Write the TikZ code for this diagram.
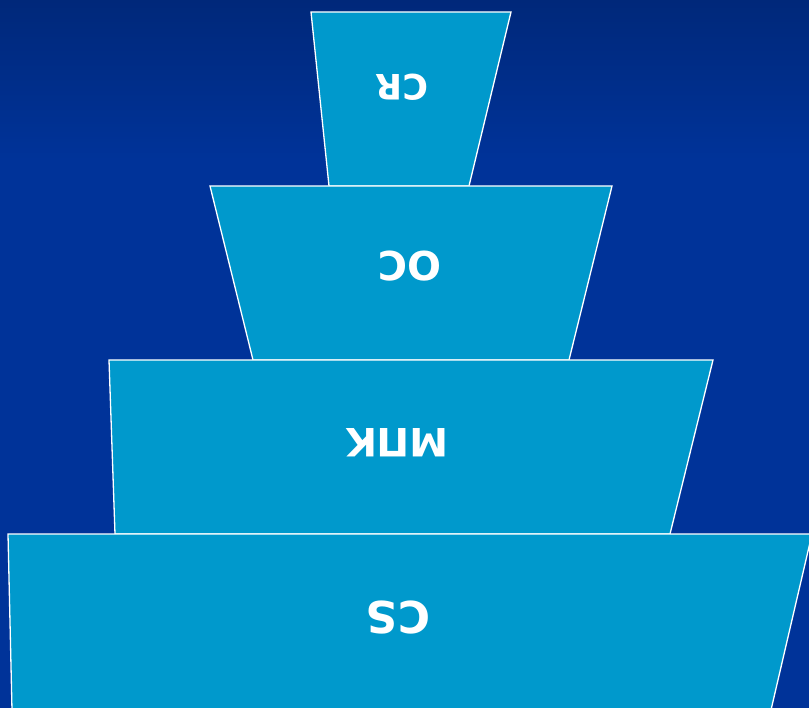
\documentclass[tikz,border=0pt]{standalone}
\usepackage{fontspec}
\setmainfont{DejaVu Sans}
\usetikzlibrary{positioning}

\definecolor{navytop}{HTML}{00287A}
\definecolor{navybg}{HTML}{003399}
\definecolor{layerblue}{HTML}{0099CC}

\begin{document}
\begin{tikzpicture}[
x=1pt, y=-1pt,
layer/.style={fill=layerblue, draw=white, line width=1.3pt, line join=miter},
label/.style={text=white, font=\bfseries, rotate=180, inner sep=0pt, text depth=0pt}
]

% background
\fill[navybg] (0,0) rectangle (809,708);
\shade[top color=navytop, bottom color=navybg] (0,0) rectangle (809,160);
\useasboundingbox (0,0) rectangle (809,708);

% layers, top to bottom
\draw[layer] (311,12) -- (511,12) -- (469,186) -- (329,186) -- cycle;
\draw[layer] (210,186) -- (612,186) -- (569,360) -- (253,360) -- cycle;
\draw[layer] (109,360) -- (713,360) -- (670,534) -- (115,534) -- cycle;
\draw[layer] (8,534) -- (812,534) -- (771,710) -- (12,710) -- cycle;

% labels
\node[label, font=\bfseries\fontsize{35}{35}\selectfont] (cr) at (402,87) {CR};
\node[label, font=\bfseries\fontsize{40}{40}\selectfont] (oc) at (410,266) {ОС};
\node[label, font=\bfseries\fontsize{39}{39}\selectfont] (mpk) at (397,443) {МПК};
\node[label, font=\bfseries\fontsize{44}{44}\selectfont] (cs) at (398,618) {CS};

\end{tikzpicture}
\end{document}
